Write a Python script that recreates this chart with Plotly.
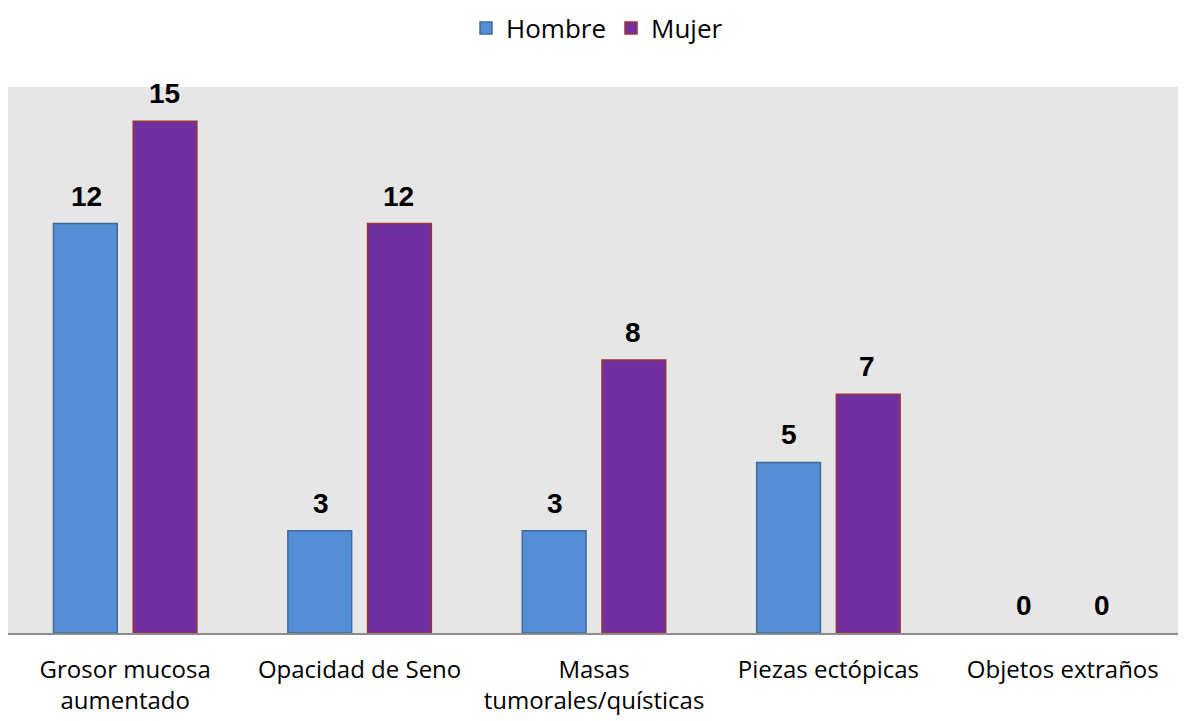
import plotly.graph_objects as go

categories = ["Grosor mucosa<br>aumentado", "Opacidad de Seno", "Masas<br>tumorales/quísticas",
              "Piezas ectópicas", "Objetos extraños"]
hombre = [12, 3, 3, 5, 0]
mujer = [15, 12, 8, 7, 0]

fig = go.Figure()
fig.add_trace(go.Bar(name="Hombre", x=categories, y=hombre,
                     marker=dict(color="#558ED5",
                                 line=dict(color="#3F6A9E", width=[1.5 if v else 0 for v in hombre]))))
fig.add_trace(go.Bar(name="Mujer", x=categories, y=mujer,
                     marker=dict(color="#7030A0",
                                 line=dict(color="#9B3535", width=[1.5 if v else 0 for v in mujer]))))

label_font = dict(family="Liberation Sans, Arial", size=28, color="black")
for vals, shift in ((hombre, -39), (mujer, 39)):
    for i, (c, v) in enumerate(zip(categories, vals)):
        fig.add_annotation(x=c, y=v, xref="x", yref="y", text="<b>%d</b>" % v,
                           showarrow=False, yanchor="bottom", xshift=shift, yshift=10,
                           font=label_font)

W, H = 1178, 713
fig.update_layout(
    width=W, height=H,
    margin=dict(l=0, r=6, t=79, b=88, autoexpand=False),
    paper_bgcolor="white", plot_bgcolor="#E6E6E6",
    barmode="group", bargap=0.32, bargroupgap=0.2,
    showlegend=True,
    legend=dict(orientation="h", x=0.5, xanchor="center", xref="container",
                y=1 - 20 / H, yanchor="middle", yref="container",
                font=dict(family="Open Sans", size=26, color="black"),
                traceorder="normal"),
    xaxis=dict(showline=True, linecolor="#8C8C8C", linewidth=2, ticks="",
               automargin=False, ticklabelstandoff=14,
               tickfont=dict(family="Open Sans", size=24, color="black")),
    yaxis=dict(range=[0, 16], visible=False, showgrid=False, automargin=False),
)
fig.write_html("out.html")
